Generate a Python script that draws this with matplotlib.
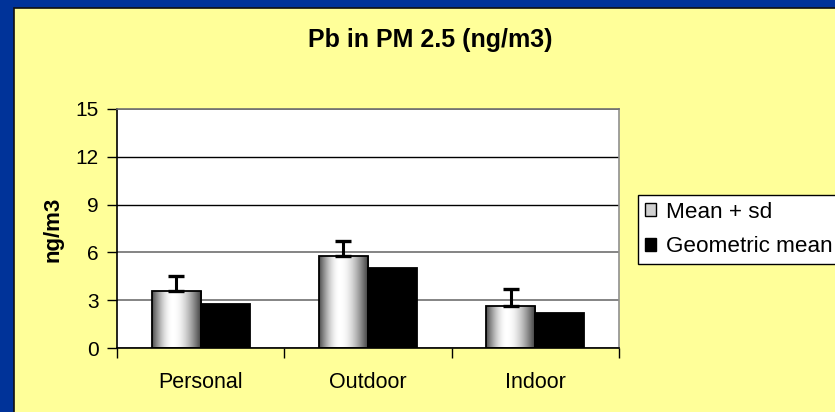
import numpy as np
import matplotlib
matplotlib.use("Agg")
import matplotlib.pyplot as plt
from matplotlib.patches import Rectangle, Patch

categories = ["Personal", "Outdoor", "Indoor"]
mean_vals = [3.6, 5.75, 2.65]
sd_vals = [0.95, 0.95, 1.03]
geo_vals = [2.74, 5.0, 2.2]
yticks = [0, 3, 6, 9, 12, 15]
title = "Pb in PM 2.5 (ng/m3)"
ylabel = "ng/m3"
legend_labels = ["Mean + sd", "Geometric mean"]

plt.rcParams['font.family'] = ['Liberation Sans', 'DejaVu Sans']

W, H = 835, 412
fig = plt.figure(figsize=(W / 100, H / 100), dpi=100)
fig.patch.set_facecolor('#003399')

# yellow panel
fig.patches.append(Rectangle((14 / W, -0.1), 1.2, 1.1 - 8 / H, transform=fig.transFigure,
                             facecolor='#FFFF99', edgecolor='#111111', linewidth=1.2,
                             zorder=-1))

ax = fig.add_axes([117 / W, 64 / H, 502 / W, 239 / H])
ax.set_zorder(2)
ax.set_facecolor('white')

x = np.arange(len(categories))
w = 0.293

mean_bars = ax.bar(x - w / 2, mean_vals, w, facecolor='none', edgecolor='black',
                   linewidth=1.3, zorder=3)
ax.bar(x + w / 2, geo_vals, w, facecolor='black', edgecolor='black',
       linewidth=1.3, zorder=3)

# cylinder-like gradient
t = np.linspace(0, 1, 200)
peak = 0.42
g = np.where(t < peak,
             0.30 + 0.70 * np.sin(np.pi / 2 * t / peak),
             0.22 + 0.78 * np.cos(np.pi / 2 * (t - peak) / (1 - peak)))
grad = g[np.newaxis, :]
for b in mean_bars:
    x0, y0 = b.get_x(), b.get_y()
    im = ax.imshow(grad, extent=[x0, x0 + b.get_width(), y0, y0 + b.get_height()],
                   cmap='gray', vmin=0, vmax=1, aspect='auto', zorder=2.5,
                   interpolation='bilinear')
    im.set_clip_path(b)

ax.errorbar(x - w / 2, mean_vals, yerr=[np.zeros(len(sd_vals)), sd_vals], fmt='none',
            ecolor='black', elinewidth=2.2, capsize=5.6, capthick=2.4, zorder=4)

ax.set_xlim(-0.5, len(categories) - 0.5)
ax.set_ylim(0, 15)
ax.set_yticks(yticks)
ax.set_yticklabels([str(v) for v in yticks], fontsize=15)
ax.tick_params(axis='y', direction='out', length=7, width=1, pad=6, colors='black')

ax.set_xticks(np.arange(-0.5, len(categories), 1.0))
ax.set_xticklabels([])
ax.set_xticks(x, minor=True)
ax.set_xticklabels(categories, minor=True, fontsize=15.5)
ax.tick_params(axis='x', which='major', direction='out', length=7, width=1)
ax.tick_params(axis='x', which='minor', length=0, pad=17)

ax.set_axisbelow(True)
ax.grid(axis='y', color='#707070', linewidth=1.2)
for val, gl in zip(yticks, ax.get_ygridlines()):
    if val in (9, 12):
        gl.set_color('black')
        gl.set_linewidth(1.0)

ax.spines['left'].set_color('black')
ax.spines['bottom'].set_color('black')
ax.spines['top'].set_color('#707070')
ax.spines['right'].set_color('#909090')
for s in ax.spines.values():
    s.set_linewidth(1.2)

fig.text(430 / W, 1 - 47.5 / H, title, ha='center', va='baseline',
         fontsize=18, fontweight='bold')
fig.text(53 / W, 1 - 229 / H, ylabel, rotation=90, ha='center', va='center',
         fontsize=16, fontweight='bold')

handles = [Patch(facecolor='#d0d0d0', edgecolor='black', linewidth=1),
           Patch(facecolor='black', edgecolor='black', linewidth=1)]
leg = fig.legend(handles, legend_labels, loc='lower left',
                 bbox_to_anchor=(638 / W, 1 - 264 / H), fontsize=16.2,
                 frameon=True, fancybox=False, edgecolor='black', facecolor='white',
                 framealpha=1, handlelength=0.5, handleheight=0.5,
                 handletextpad=0.45, borderpad=0.3, labelspacing=0.6,
                 borderaxespad=0)
leg.get_frame().set_linewidth(1.0)
leg.set_zorder(5)

fig.savefig('out.png', dpi=100, facecolor=fig.get_facecolor())
